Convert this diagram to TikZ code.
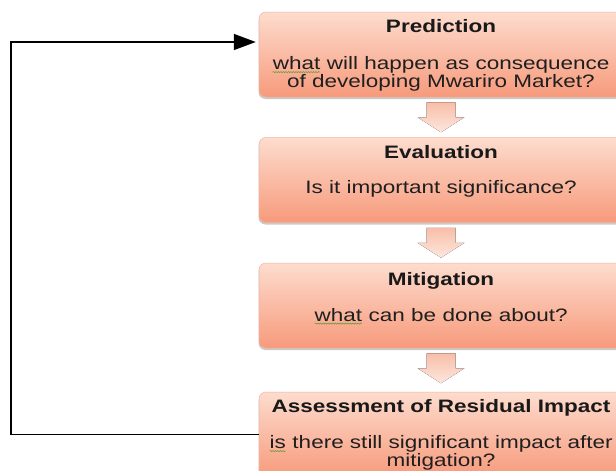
\documentclass[tikz,border=0pt]{standalone}
\usepackage{fontspec}
\setmainfont{Liberation Sans}[FakeStretch=1.25]
\usetikzlibrary{arrows.meta,shadows,decorations.pathmorphing}
\definecolor{boxtop}{HTML}{FDDCCE}
\definecolor{boxbot}{HTML}{F79A7B}
\definecolor{boxedge}{HTML}{F6B29A}
\definecolor{arrtop}{HTML}{F8BEA8}
\definecolor{arrbot}{HTML}{FDE7DE}
\definecolor{spell}{HTML}{6E9A3C}
\newcommand\squig[1]{\tikz[baseline=(sq.base)]{\node[inner sep=0pt,outer sep=0pt](sq){#1};\draw[spell,line width=0.6pt,decorate,decoration={snake,amplitude=0.6pt,segment length=2.5pt}] ([yshift=-2.6pt]sq.base west) -- ([yshift=-2.6pt]sq.base east);}}
\begin{document}
\begin{tikzpicture}[x=1pt,y=-1pt,
  stagebox/.style={rectangle,rounded corners=7pt,minimum width=364pt,minimum height=85pt,
    top color=boxtop,bottom color=boxbot,draw=boxedge,line width=0.5pt,
    drop shadow={shadow xshift=-0.5pt,shadow yshift=-2pt,opacity=0.35,fill=black!60}},
  title/.style={anchor=base,font=\fontsize{18}{20}\selectfont\bfseries,text=black!90,inner sep=0pt},
  body/.style={anchor=base,font=\fontsize{18}{17.5}\selectfont,text=black!88,inner sep=0pt,align=center},
  downarrow/.style={top color=arrtop,bottom color=arrbot,draw=none},
  feedback/.style={line width=1.8pt,black,-{Triangle[length=22pt,width=16pt]}}]
\clip (0,0) rectangle (616,471);
\fill[white] (0,0) rectangle (616,471);

\node[stagebox] (b1) at (441,54.5) {};
\node[stagebox] (b2) at (441,180) {};
\node[stagebox] (b3) at (441,305.5) {};
\node[stagebox] (b4) at (441,434.5) {};

\node[title] (t1) at (441,32.5) {Prediction};
\node[body] (d1) at (441,87) {\squig{what} will happen as consequence\\of developing Mwariro Market?};
\node[title] (t2) at (441,158) {Evaluation};
\node[body] (d2) at (441,193) {Is it important significance?};
\node[title] (t3) at (441,285) {Mitigation};
\node[body] (d3) at (441,321) {\squig{what} can be done about?};
\node[title] (t4) at (441,412) {Assessment of Residual Impact};
\node[body] (d4) at (441,466) {\squig{is} there still significant impact after\\mitigation?};

\foreach \a in {b1,b2,b3}{
  \fill[downarrow] ([yshift=-5pt]\a.south) ++(-14.5,0) -- ++(29,0) -- ++(0,15) -- ++(9,0)
     -- ++(-23.5,15) -- ++(-23.5,-15) -- ++(9,0) -- cycle;
}

\draw[feedback] (b4.west) -- ++(-248,0) |- ([yshift=12.5pt,xshift=-3pt]b1.west);
\end{tikzpicture}
\end{document}
